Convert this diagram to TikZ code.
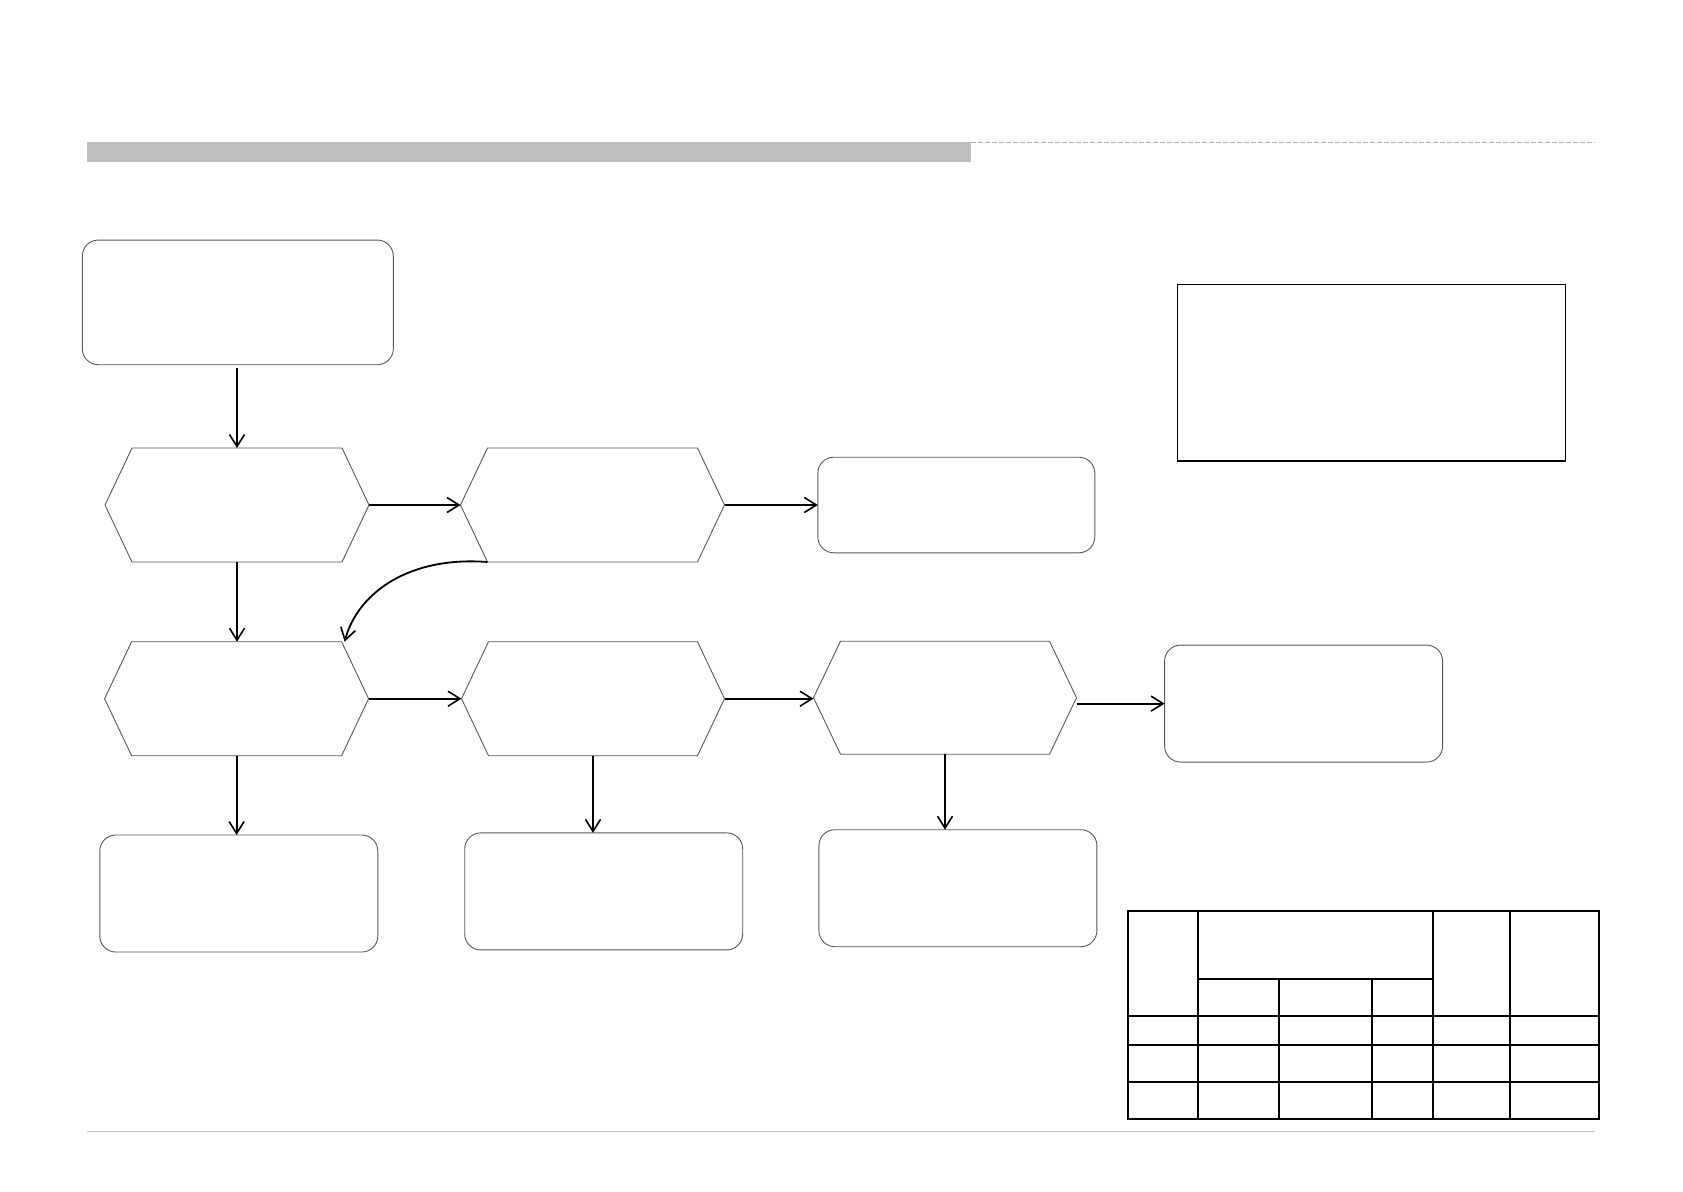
\documentclass[tikz,border=0pt]{standalone}
\usetikzlibrary{arrows.meta,calc}
\begin{document}
\begin{tikzpicture}[x=1pt,y=-1pt,
  rbox/.style={draw=black!65,line width=0.9pt,rounded corners=16pt,inner sep=0pt,outer sep=0pt},
  hexbox/.style={draw=none,inner sep=0pt,outer sep=0pt},
  hexline/.style={draw=black!65,line width=0.9pt},
  conn/.style={line width=1.8pt,-{Straight Barb[length=12pt,width=15pt,line width=1.6pt]}},
  tbl/.style={line width=1.6pt},
  legend/.style={draw,line width=1.3pt,inner sep=0pt,outer sep=0pt}]
\useasboundingbox (0,0) rectangle (1683,1191);
% header bar and rules
\fill[black!25] (87,142) rectangle (971,162);
\draw[black!30,line width=1.2pt,dash pattern=on 5pt off 2pt] (971,142.5) -- (1595,142.5);
\draw[black!25,line width=1.5pt] (87,1131.7) -- (1595,1131.7);
% boxes
\node[rbox,minimum width=311,minimum height=124.7] (b1) at (237.8,302.4) {};
\node[rbox,minimum width=277,minimum height=95.6] (b3) at (956.3,505) {};
\node[rbox,minimum width=278,minimum height=117] (rb) at (1303.6,703.6) {};
\node[rbox,minimum width=278,minimum height=117] (b7) at (238.8,893.5) {};
\node[rbox,minimum width=278,minimum height=117] (b8) at (603.7,891.4) {};
\node[rbox,minimum width=278,minimum height=117] (b9) at (957.9,888.2) {};
\node[legend,minimum width=388.4,minimum height=176.7] (lg) at (1371.5,372.7) {};
% hexagons
\node[hexbox,minimum width=264,minimum height=114] (h1) at (237,505) {};
\node[hexbox,minimum width=264,minimum height=114] (h2) at (592.5,505) {};
\node[hexbox,minimum width=264,minimum height=114] (h4) at (236.6,698.7) {};
\node[hexbox,minimum width=263,minimum height=114] (h5) at (593,698.7) {};
\node[hexbox,minimum width=263,minimum height=113] (h6) at (945,697.7) {};
\foreach \h in {h1,h2,h4,h5,h6}{
  \draw[hexline] (\h.west) -- ([xshift=27]\h.north west) -- ([xshift=-27]\h.north east)
    -- (\h.east) -- ([xshift=-27]\h.south east) -- ([xshift=27]\h.south west) -- cycle;
}
% connectors
\draw[conn] ([yshift=-3]b1.south -| h1.north) -- (h1.north);
\draw[conn] (h1.east) -- (h1.east -| h2.west);
\draw[conn] (h2.east) -- (h2.east -| b3.west);
\draw[conn] (h1.south) -- (h1.south |- h4.north);
\draw[conn] ([xshift=27]h2.south west) .. controls (410,556) and (358,592) .. ([xshift=-24]h4.north east);
\draw[conn] (h4.east) -- (h4.east -| h5.west);
\draw[conn] (h5.east) -- (h5.east -| h6.west);
\draw[conn] (h6.east |- rb.west) -- (rb.west);
\draw[conn] (h4.south) -- (h4.south |- b7.north);
\draw[conn] (h5.south) -- (h5.south |- b8.north);
\draw[conn] (h6.south) -- (h6.south |- b9.north);
% table
\draw[tbl] (1127.7,911) rectangle (1599,1118.7);
\draw[tbl] (1197.7,911) -- (1197.7,1118.7);
\draw[tbl] (1432.7,911) -- (1432.7,1118.7);
\draw[tbl] (1510,911) -- (1510,1118.7);
\draw[tbl] (1279,979) -- (1279,1118.7);
\draw[tbl] (1371.7,979) -- (1371.7,1118.7);
\draw[tbl] (1197.7,979) -- (1432.7,979);
\draw[tbl] (1127.7,1015.7) -- (1599,1015.7);
\draw[tbl] (1127.7,1044.7) -- (1599,1044.7);
\draw[tbl] (1127.7,1081.7) -- (1599,1081.7);
\end{tikzpicture}
\end{document}
